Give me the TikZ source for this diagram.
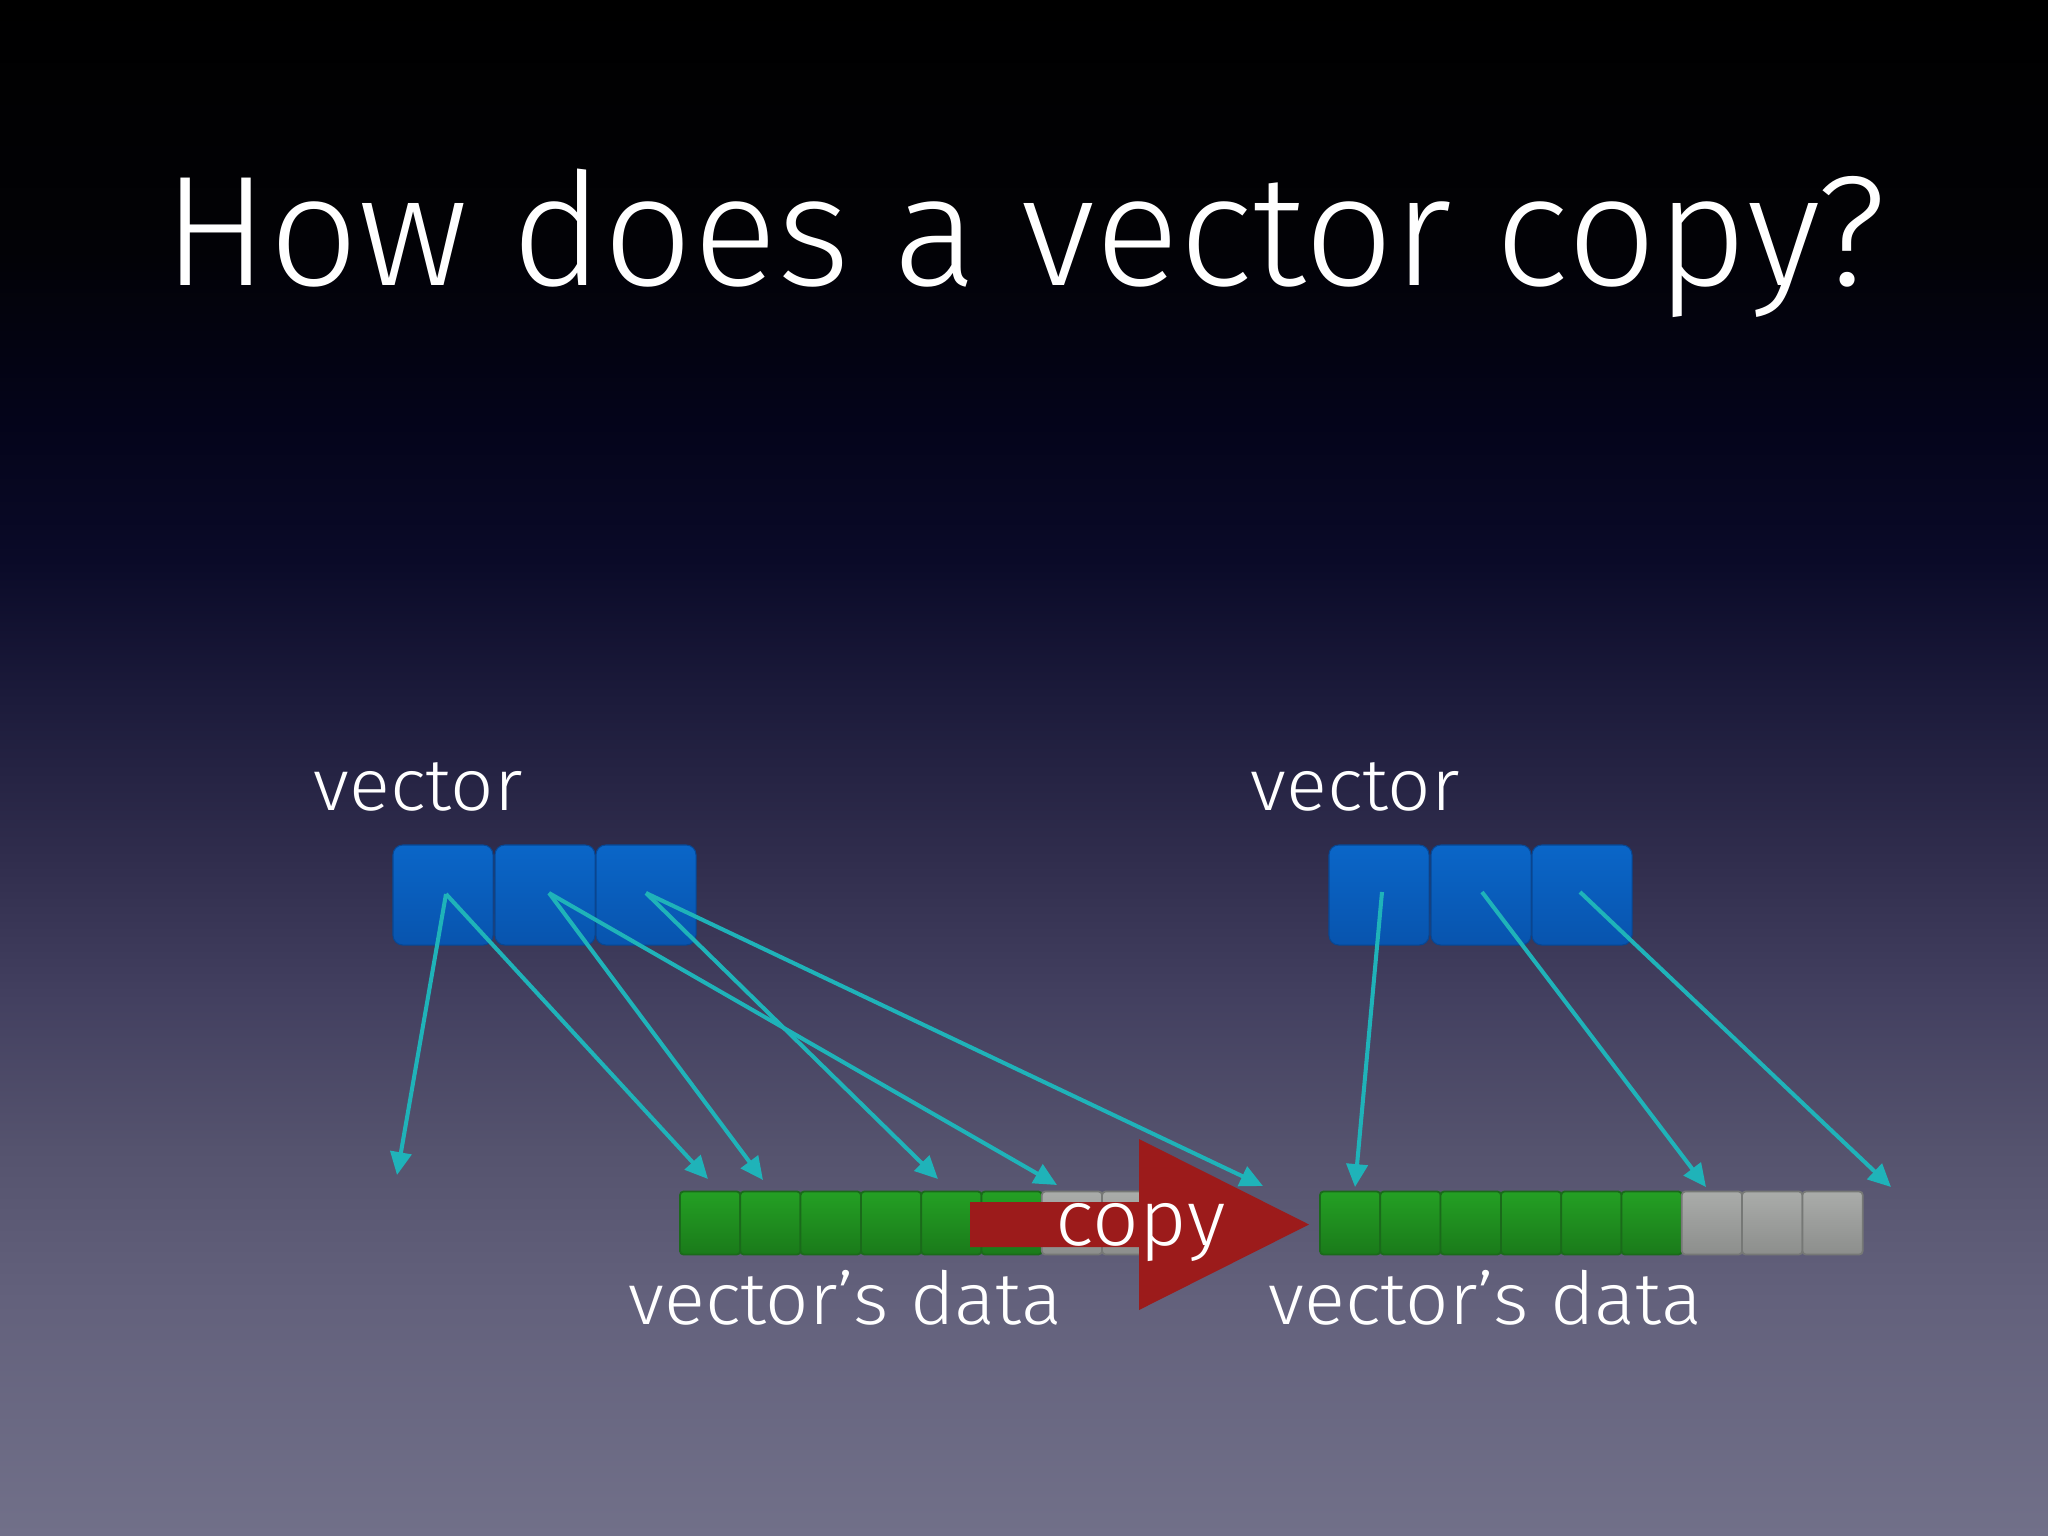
\documentclass[tikz,border=0pt]{standalone}
\usepackage{fontspec}
\setmainfont{Fira Sans Light}
\newfontfamily\lblfont{Fira Sans Light}[FakeStretch=1.04]
\usetikzlibrary{arrows.meta}
\definecolor{bgA}{HTML}{717089}
\definecolor{bgB}{HTML}{63617C}
\definecolor{bgC}{HTML}{55536E}
\definecolor{bgD}{HTML}{434060}
\definecolor{bgE}{HTML}{2F2C4C}
\definecolor{bgF}{HTML}{1C1B3B}
\definecolor{bgG}{HTML}{0A0A28}
\definecolor{bgH}{HTML}{04041A}
\definecolor{bgI}{HTML}{020206}
\definecolor{bgJ}{HTML}{000000}
\definecolor{blueTop}{HTML}{0A66C8}
\definecolor{blueBot}{HTML}{0854AE}
\definecolor{greenTop}{HTML}{24A024}
\definecolor{greenBot}{HTML}{1A7A1A}
\definecolor{greenEdge}{HTML}{1A6A1A}
\definecolor{grayTop}{HTML}{AAACAA}
\definecolor{grayBot}{HTML}{8C8E8C}
\definecolor{grayEdge}{HTML}{767876}
\definecolor{ptr}{HTML}{1FB3B9}
\definecolor{copyred}{HTML}{9C1B1B}
\pgfdeclareverticalshading{slidebg}{100bp}{color(0bp)=(bgA); color(25bp)=(bgA); color(32.68bp)=(bgB); color(37.57bp)=(bgC); color(42.45bp)=(bgD); color(47.33bp)=(bgE); color(52.21bp)=(bgF); color(56.77bp)=(bgG); color(61.33bp)=(bgH); color(66.86bp)=(bgI); color(75bp)=(bgJ); color(100bp)=(bgJ)}
\tikzset{
  vblock/.style={rectangle, rounded corners=2.8pt, minimum width=1.0cm, minimum height=1.0cm, inner sep=0pt, top color=blueTop, bottom color=blueBot, draw=blueBot!85!black, line width=0.3pt},
  gcell/.style={rectangle, rounded corners=1pt, minimum width=0.603cm, minimum height=0.63cm, inner sep=0pt, top color=greenTop, bottom color=greenBot, draw=greenEdge, line width=0.5pt},
  ycell/.style={rectangle, rounded corners=1pt, minimum width=0.603cm, minimum height=0.63cm, inner sep=0pt, top color=grayTop, bottom color=grayBot, draw=grayEdge, line width=0.5pt},
  pointer/.style={draw=ptr, line width=1.15pt, -{Triangle[length=6.5pt, width=6pt]}},
  lbl/.style={text=white, inner sep=0pt, font=\lblfont\fontsize{20.8pt}{25pt}\selectfont},
  copylbl/.style={text=white, inner sep=0pt, font=\lblfont\fontsize{22.4pt}{27pt}\selectfont},
  titlelbl/.style={text=white, inner sep=0pt, font=\fontsize{44.6pt}{52pt}\selectfont}
}
\begin{document}
\begin{tikzpicture}[x=0.01cm, y=-0.01cm]
\useasboundingbox (0,0) rectangle (2048,1536);
\shade[shading=slidebg] (0,0) rectangle (2048,1536);

% title
\node[titlelbl, anchor=base] (title) at (1025,285) {How does a vector copy?};

% labels
\node[lbl, anchor=base west] (vecL) at (313,810) {vector};
\node[lbl, anchor=base west] (vecR) at (1250,810) {vector};

% vector blocks
\node[vblock] (bL1) at (443,895) {};
\node[vblock] (bL2) at (545,895) {};
\node[vblock] (bL3) at (646,895) {};
\node[vblock] (bR1) at (1379,895) {};
\node[vblock] (bR2) at (1481,895) {};
\node[vblock] (bR3) at (1582,895) {};

% data cells
\foreach \i in {1,...,6} {
  \node[gcell] (dL\i) at ({680+60.3*(\i-0.5)},1223) {};
  \node[gcell] (dR\i) at ({1320+60.3*(\i-0.5)},1223) {};
}
\foreach \i in {7,8,9} {
  \node[ycell] (dL\i) at ({680+60.3*(\i-0.5)},1223) {};
  \node[ycell] (dR\i) at ({1320+60.3*(\i-0.5)},1223) {};
}

% copy arrow
\fill[copyred] (970,1202) -- (1139,1202) -- (1139,1139) -- (1309,1224.5) -- (1139,1310) -- (1139,1247) -- (970,1247) -- cycle;
\node[copylbl, anchor=base west] (copy) at (1055,1245) {copy};

% data labels
\node[lbl, anchor=base west] (dataL) at (628,1324) {vector’s data};
\node[lbl, anchor=base west] (dataR) at (1268,1324) {vector’s data};

% pointer coordinates
\coordinate (pL1) at (446,894);
\coordinate (pL2) at (549,893);
\coordinate (pL3) at (646,893);
\coordinate (pR1) at (1382,892);
\coordinate (pR2) at (1482,892);
\coordinate (pR3) at (1580,892);
\coordinate (t1) at (397,1175);
\coordinate (t2) at (708,1179);
\coordinate (t3) at (763,1180);
\coordinate (t4) at (1057,1185);
\coordinate (t5) at (938,1179);
\coordinate (t6) at (1263,1186);
\coordinate (t7) at (1355,1187);
\coordinate (t8) at (1706,1187);
\coordinate (t9) at (1891,1187);

\draw[pointer] (pL1) -- (t1);
\draw[pointer] (pL1) -- (t2);
\draw[pointer] (pL2) -- (t3);
\draw[pointer] (pL2) -- (t4);
\draw[pointer] (pL3) -- (t5);
\draw[pointer] (pL3) -- (t6);
\draw[pointer] (pR1) -- (t7);
\draw[pointer] (pR2) -- (t8);
\draw[pointer] (pR3) -- (t9);
\end{tikzpicture}
\end{document}
